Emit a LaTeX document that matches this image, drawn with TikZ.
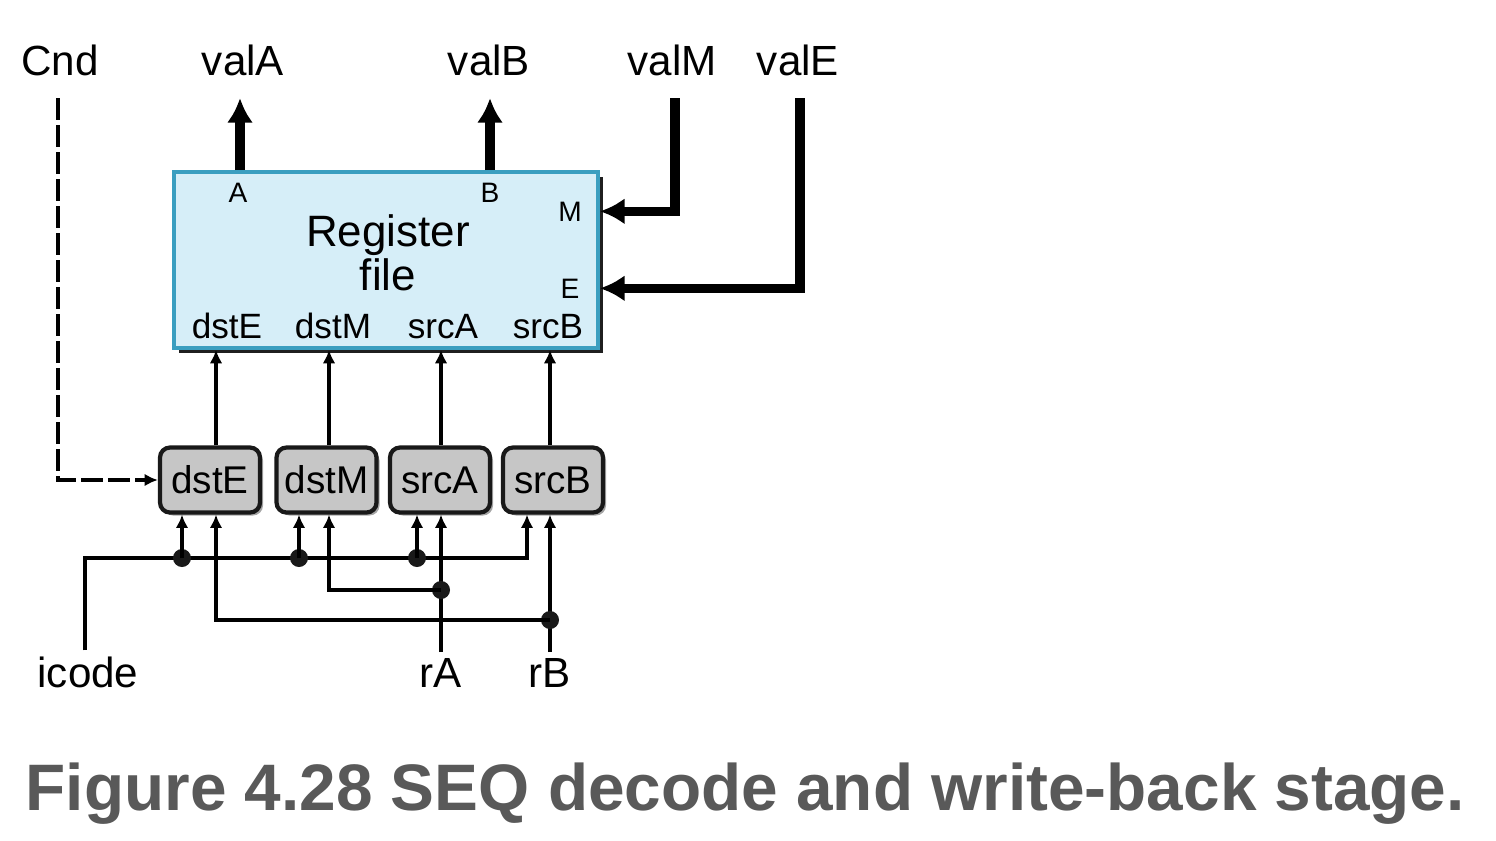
\documentclass[tikz,border=0pt]{standalone}
\usepackage{fontspec}
\setmainfont{Liberation Sans}
\usetikzlibrary{arrows.meta, positioning, shadows}
\definecolor{rfblue}{RGB}{214,238,248}
\definecolor{rfedge}{RGB}{58,158,192}
\definecolor{boxgray}{RGB}{198,198,198}
\definecolor{capgray}{RGB}{89,89,89}
\tikzset{
wire/.style={line width=1pt, -{Latex[length=3.8pt,width=3.6pt]}}, % thin control wires
bus/.style={line width=2.6pt, -{Latex[length=7pt,width=7.5pt]}}, % wide data words
cndwire/.style={wire, dash pattern=on 0.22cm off 0.05cm}, % the dashed condition line
regfile/.style={draw=rfedge, line width=1.1pt, fill=rfblue, minimum width=4.24cm, minimum height=1.76cm,
  drop shadow={shadow xshift=0.05cm, shadow yshift=-0.05cm, fill=black!88, opacity=1}}, % the register file
ctrlbox/.style={draw=black!90, line width=1.2pt, rounded corners=0.1cm, fill=boxgray, minimum width=1.0cm,
  minimum height=0.65cm, inner sep=1pt, font=\fontsize{11}{13}\selectfont,
  drop shadow={shadow xshift=0.03cm, shadow yshift=-0.03cm, fill=black!35, opacity=1}}, % the four small blocks
junction/.style={circle, fill=black!90, inner sep=0pt, minimum size=0.18cm}, % wire joints
iolbl/.style={font=\fontsize{12}{14}\selectfont, anchor=base, inner sep=1.5pt}, % signal names outside
portname/.style={font=\fontsize{10}{12}\selectfont, anchor=base, inner sep=1pt}, % port names inside
portletter/.style={font=\fontsize{8}{10}\selectfont, anchor=base, inner sep=1pt}, % A, B, M, E
}

\begin{document}
\begin{tikzpicture}
\useasboundingbox (0,0) rectangle (14.96,-8.40);

\node[iolbl, inner sep=0.22cm] at (0.60,-0.75) (cnd) {Cnd};
\node[iolbl, inner sep=0.22cm] at (2.43,-0.75) (valA) {valA};
\node[iolbl, inner sep=0.22cm] at (4.89,-0.75) (valB) {valB};
\node[iolbl, inner sep=0.22cm] at (6.72,-0.75) (valM) {valM};
\node[iolbl, inner sep=0.22cm] at (7.98,-0.75) (valE) {valE};

\node[regfile] at (3.86,-2.60) (rf) {};
\node[align=center, font=\fontsize{12.5}{12.5}\selectfont] at (3.88,-2.53) (rfname) {Register\\file};
\node[portletter] at (2.38,-2.02) (pA) {A};
\node[portletter] at (4.90,-2.02) (pB) {B};
\node[portletter] at (5.70,-2.21) (pM) {M};
\node[portletter] at (5.70,-2.98) (pE) {E};
\node[portname] at (2.27,-3.38) (rfdstE) {dstE};
\node[portname] at (3.33,-3.38) (rfdstM) {dstM};
\node[portname] at (4.43,-3.38) (rfsrcA) {srcA};
\node[portname] at (5.48,-3.38) (rfsrcB) {srcB};

\node[ctrlbox] at (2.10,-4.80) (dstE) {dstE};
\node[ctrlbox] at (3.265,-4.80) (dstM) {dstM};
\node[ctrlbox] at (4.40,-4.80) (srcA) {srcA};
\node[ctrlbox] at (5.53,-4.80) (srcB) {srcB};

\node[iolbl] at (0.88,-6.87) (icode) {icode};
\node[iolbl] at (4.41,-6.87) (rA) {rA};
\node[iolbl] at (5.50,-6.87) (rB) {rB};

\foreach \b/\l/\r in {dstE/1.82/2.16, dstM/2.99/3.29, srcA/4.17/4.41, srcB/5.27/5.50} {
  \coordinate (\b-l) at (\l,0 |- \b.south);
  \coordinate (\b-r) at (\r,0 |- \b.south);
  \draw[wire] (\r,0 |- \b.north) -- (\r,0 |- rf.south);
}

\draw[bus] (rf.north -| 2.40,0) -- (valA.south -| 2.40,0);
\draw[bus] (rf.north -| pB) -- (valB.south -| pB);
\draw[bus] (6.75,0 |- valM.south) |- (rf.east |- pM.center);
\draw[bus] (8.00,0 |- valE.south) |- (rf.east |- pE.center);

\draw[cndwire] (0.58,0 |- cnd.south) |- (dstE.west);

\coordinate (ibus) at (0.85,-5.58);
\draw[wire] (icode.north -| ibus) -- (ibus) -| (srcB-l);
\foreach \b in {dstE, dstM, srcA} {
  \node[junction] at (\b-l |- ibus) (\b-j) {};
  \draw[wire] (\b-j.center) -- (\b-l);
}

\draw[wire] (rA.north -| srcA-r) -- (srcA-r);
\node[junction] at (srcA-r |- 0,-5.90) (jA) {};
\draw[wire] (jA.center) -| (dstM-r);

\draw[wire] (rB.north -| srcB-r) -- (srcB-r);
\node[junction] at (srcB-r |- 0,-6.20) (jB) {};
\draw[wire] (jB.center) -| (dstE-r);

\node[anchor=base west, inner sep=0pt, text=capgray, font=\fontsize{18.7}{22}\selectfont\bfseries] at (0.25,-8.10) (caption) {Figure 4.28 SEQ decode and write-back stage.};

\end{tikzpicture}
\end{document}
